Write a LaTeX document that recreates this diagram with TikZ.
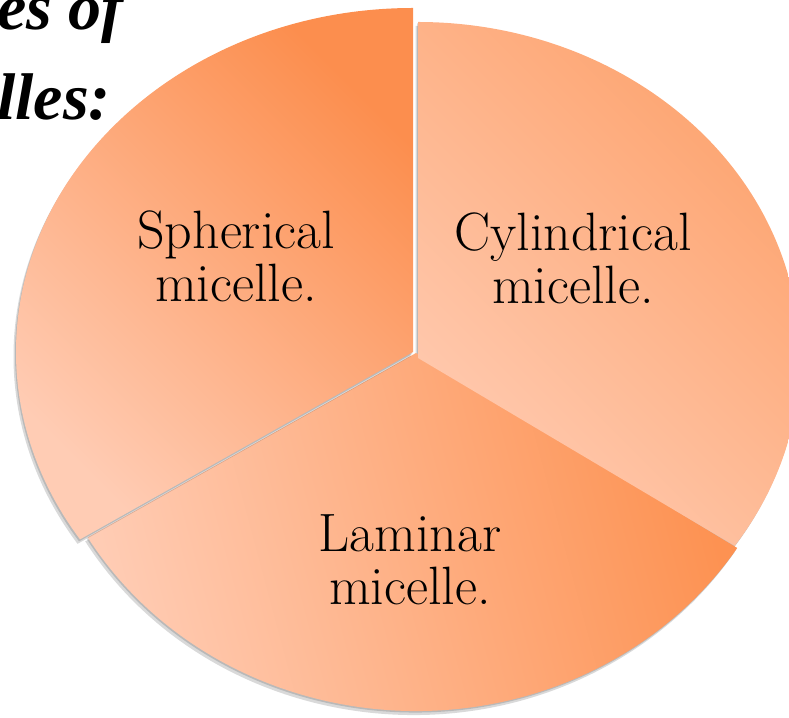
\documentclass[tikz,border=0pt]{standalone}
\usepackage{fontspec}
\newfontfamily\titlefont{Liberation Serif}
\definecolor{sphDark}{RGB}{252,142,78}
\definecolor{sphLight}{RGB}{255,204,180}
\definecolor{cylDark}{RGB}{253,160,105}
\definecolor{cylLight}{RGB}{255,202,176}
\definecolor{lamDark}{RGB}{253,146,82}
\definecolor{lamLight}{RGB}{255,204,180}
\begin{document}
\begin{tikzpicture}[x=1pt,y=1pt]
\tikzset{
  sectorshadow/.style={fill=black, opacity=0.15},
  lbl/.style={align=center, inner sep=0pt, text=black, font=\fontsize{54}{53}\selectfont},
  ttl/.style={inner sep=0pt, anchor=base west, text=black, font=\titlefont\bfseries\itshape\fontsize{66}{70}\selectfont},
}
\useasboundingbox (0,0) rectangle (789,717);

% shadows of the lower sectors
\fill[sectorshadow] (417,357.5) -- ++(-34:382 and 336) arc[start angle=-34, end angle=90, x radius=382, y radius=336] -- cycle;
\fill[sectorshadow] (415.5,355) -- ++(-34:382 and 336) arc[start angle=-34, end angle=90, x radius=382, y radius=336] -- cycle;
\fill[sectorshadow] (415,362.5) -- ++(211:383 and 358) arc[start angle=211, end angle=327, x radius=383, y radius=358] -- cycle;
\fill[sectorshadow] (413.5,360) -- ++(211:383 and 358) arc[start angle=211, end angle=327, x radius=383, y radius=358] -- cycle;

% Laminar sector
\shade[left color=lamLight, right color=lamDark, shading angle=105] (416,364) -- ++(211:383 and 358) arc[start angle=211, end angle=327, x radius=383, y radius=358] -- cycle;

% Cylindrical sector
\shade[left color=cylLight, right color=cylDark, shading angle=135] (418,359) -- ++(-34:382 and 336) arc[start angle=-34, end angle=90, x radius=382, y radius=336] -- cycle;

% Spherical sector
\fill[sectorshadow] (412,363) -- ++(90:397 and 344) arc[start angle=90, end angle=213, x radius=397, y radius=344] -- cycle;
\fill[sectorshadow] (410.5,360.5) -- ++(90:397 and 344) arc[start angle=90, end angle=213, x radius=397, y radius=344] -- cycle;
\shade[left color=sphLight, right color=sphDark, shading angle=135] (413,365) -- ++(90:397 and 344) arc[start angle=90, end angle=213, x radius=397, y radius=344] -- cycle;

% Labels
\node[lbl] (sph) at (236,461) {Spherical\\micelle.};
\node[lbl] (cyl) at (573,459) {Cylindrical\\micelle.};
\node[lbl] (lam) at (410,157) {Laminar\\micelle.};

% Title (cut off at the picture's edge, as in the reference)
\node[ttl] (t1) at (-3,687) {es of};
\node[ttl] (t2) at (-3,597) {lles:};
\end{tikzpicture}
\end{document}
